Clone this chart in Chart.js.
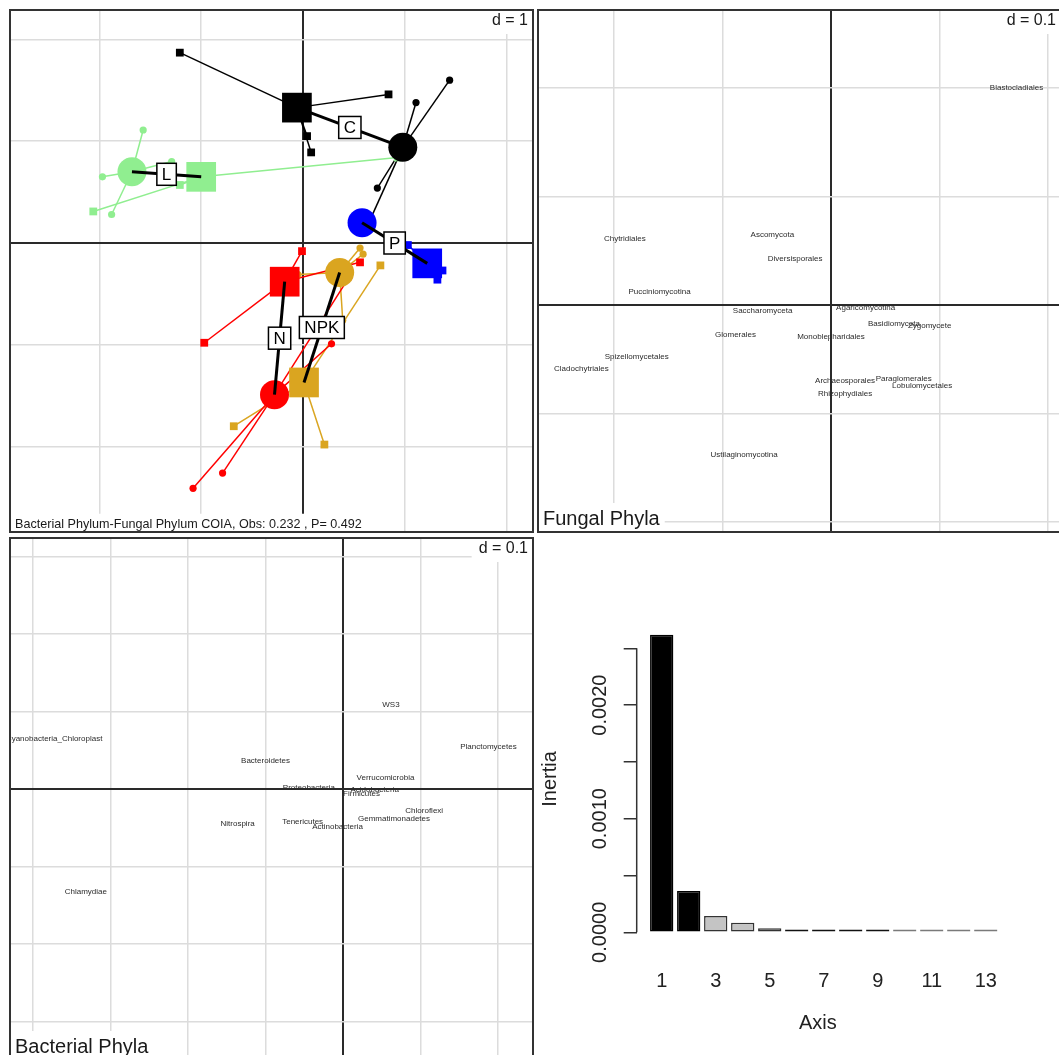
<!DOCTYPE html>
<html>
<head>
<meta charset="utf-8">
<script src="https://cdn.jsdelivr.net/npm/chart.js@4.4.1/dist/chart.umd.min.js"></script>
<style>
  html, body { margin: 0; padding: 0; background: #fff; overflow: hidden; }
  body { width: 1059px; height: 1055px; position: relative; }
  canvas { position: absolute; }
</style>
</head>
<body>
<canvas id="coia" width="533" height="532" style="left:5px;top:5px"></canvas>
<canvas id="fungi" width="533" height="532" style="left:533px;top:5px"></canvas>
<canvas id="bact" width="533" height="532" style="left:5px;top:533px"></canvas>
<canvas id="eigen" width="524" height="520" style="left:535px;top:535px"></canvas>
<script>
const FONT = '"Liberation Sans", Arial, Helvetica, sans-serif';
Chart.defaults.font.family = FONT;

// treatments
const groups = ['C', 'L', 'P', 'N', 'NPK'];

// bacterial scores (squares) : class means and single plots
const bactMeanX = [-0.06, -1.00, 1.22, -0.18, 0.01];
const bactMeanY = [1.33, 0.65, -0.20, -0.38, -1.37];
const bactSiteX = [[-1.21, 0.84, 0.04, 0.08], [-2.06, 0.93, -1.21], [1.03, 1.37, 1.32], [-0.01, -0.97, 0.56], [-0.68, 0.21, 0.76]];
const bactSiteY = [[1.87, 1.46, 1.05, 0.89], [0.31, 0.84, 0.57], [-0.02, -0.27, -0.36], [-0.08, -0.98, -0.19], [-1.80, -1.98, -0.22]];

// fungal scores (circles) : class means and single plots
const fungMeanX = [0.98, -1.68, 0.58, -0.28, 0.36];
const fungMeanY = [0.94, 0.70, 0.20, -1.49, -0.29];
const fungSiteX = [[1.44, 1.11, 0.73, 0.66], [-1.57, -1.97, -1.88, -1.29], [0.52, 0.64], [-1.08, -0.79, 0.45, 0.28], [0.56, 0.59, -0.05, 0.39]];
const fungSiteY = [[1.60, 1.38, 0.54, 0.23], [1.11, 0.65, 0.28, 0.80], [0.25, 0.17], [-2.41, -2.26, -0.34, -0.99], [-0.05, -0.11, -0.31, -0.76]];

const fungalTaxa = ['Blastocladiales', 'Chytridiales', 'Ascomycota', 'Diversisporales', 'Pucciniomycotina', 'Saccharomyceta',
  'Agaricomycotina', 'Basidiomycota', 'Zygomycete', 'Glomerales', 'Monoblepharidales', 'Spizellomycetales',
  'Cladochytriales', 'Archaeosporales', 'Paraglomerales', 'Lobulomycetales', 'Rhizophydiales', 'Ustilaginomycotina'];
const fungalAx1 = [0.171, -0.190, -0.054, -0.033, -0.158, -0.063, 0.032, 0.058, 0.091, -0.088, 0.000, -0.179, -0.230, 0.013, 0.067, 0.084, 0.013, -0.080];
const fungalAx2 = [0.200, 0.061, 0.065, 0.043, 0.012, -0.005, -0.002, -0.017, -0.019, -0.027, -0.029, -0.048, -0.059, -0.070, -0.068, -0.074, -0.082, -0.138];

const bacterialTaxa = ['WS3', 'Cyanobacteria_Chloroplast', 'Planctomycetes', 'Bacteroidetes', 'Verrucomicrobia', 'Proteobacteria',
  'Acidobacteria', 'Firmicutes', 'Chloroflexi', 'Gemmatimonadetes', 'Nitrospira', 'Tenericutes', 'Actinobacteria', 'Chlamydiae'];
const bacterialAx1 = [0.062, -0.373, 0.188, -0.100, 0.055, -0.044, 0.041, 0.024, 0.105, 0.066, -0.136, -0.052, -0.007, -0.332];
const bacterialAx2 = [0.109, 0.065, 0.055, 0.036, 0.015, 0.001, -0.001, -0.006, -0.028, -0.039, -0.045, -0.042, -0.049, -0.133];

// eigenvalues
const axisNumbers = [1, 2, 3, 4, 5, 6, 7, 8, 9, 10, 11, 12, 13];
const inertia = [0.00262, 0.000364, 0.000143, 0.000085, 0.000035, 0.000025, 0.000025, 0.000024, 0.000024, 0.000024, 0.000024, 0.000024, 0.000024];
const inertiaTicks = ['0.0000', '', '0.0010', '', '0.0020', ''];
const axisTickLabels = [1, 3, 5, 7, 9, 11, 13];

const groupColor = { C: '#000000', L: '#90ee90', P: '#0000ff', N: '#ff0000', NPK: '#daa520' };
const barFill = ['#000', '#000', '#c4c4c4', '#c4c4c4', '#9a9a9a', '#111', '#111', '#111', '#111', '#7a7a7a', '#7a7a7a', '#7a7a7a', '#7a7a7a'];
const barEdge = ['#000', '#000', '#333', '#333', '#333', '#111', '#111', '#111', '#111', '#7a7a7a', '#7a7a7a', '#7a7a7a', '#7a7a7a'];

const isZero = (v) => Math.abs(v) < 1e-9;

const gridOpts = {
  drawTicks: false,
  color: (c) => (c.tick && isZero(c.tick.value) ? '#2a2a2a' : '#dcdcdc'),
  lineWidth: (c) => (c.tick && isZero(c.tick.value) ? 2 : 1.5),
};

const ordScales = (xMin, xMax, yMin, yMax, step) => ({
  x: {
    type: 'linear', min: xMin, max: xMax,
    ticks: { stepSize: step, display: false, includeBounds: false },
    grid: gridOpts, border: { display: false },
    afterFit: (s) => { s.height = 0; },
  },
  y: {
    type: 'linear', min: yMin, max: yMax,
    ticks: { stepSize: step, display: false, includeBounds: false },
    grid: gridOpts, border: { display: false },
    afterFit: (s) => { s.width = 0; },
  },
});

const baseOptions = (scales) => ({
  responsive: false,
  animation: false,
  events: [],
  layout: { padding: 5, autoPadding: false },
  plugins: { legend: { display: false }, tooltip: { enabled: false } },
  scales,
});

// frame + "d = " box + bottom caption
const decor = ({ dText, caption, captionSize }) => ({
  id: 'decor',
  beforeDatasetsDraw(chart) {
    const { ctx, chartArea: a } = chart;
    ctx.save();
    ctx.font = `16px ${FONT}`;
    const dw = ctx.measureText(dText).width;
    ctx.fillStyle = '#fff';
    ctx.fillRect(a.right - dw - 12, a.top, dw + 12, 24);
    ctx.fillStyle = '#1a1a1a';
    ctx.textAlign = 'right';
    ctx.textBaseline = 'middle';
    ctx.fillText(dText, a.right - 5, a.top + 11);
    if (caption) {
      ctx.font = `${captionSize}px ${FONT}`;
      const cw = ctx.measureText(caption).width;
      const h = captionSize * 1.45;
      ctx.fillStyle = '#fff';
      ctx.fillRect(a.left, a.bottom - h, cw + 10, h);
      ctx.fillStyle = '#1a1a1a';
      ctx.textAlign = 'left';
      ctx.textBaseline = 'alphabetic';
      ctx.fillText(caption, a.left + 5, a.bottom - captionSize * 0.33);
    }
    ctx.restore();
  },
  afterDraw(chart) {
    const { ctx, chartArea: a } = chart;
    ctx.save();
    ctx.strokeStyle = '#333';
    ctx.lineWidth = 2;
    ctx.strokeRect(a.left, a.top, a.width, a.height);
    ctx.restore();
  },
});

// ---------- panel 1 : COIA ----------
const star = (from, to, col) => ({
  data: [from, to], showLine: true, borderColor: col, borderWidth: 1.5,
  pointRadius: 0, pointHoverRadius: 0, order: 4,
});

const coiaDatasets = [];
groups.forEach((g, i) => {
  const col = groupColor[g];
  const bMean = { x: bactMeanX[i], y: bactMeanY[i] };
  const fMean = { x: fungMeanX[i], y: fungMeanY[i] };
  const bPts = bactSiteX[i].map((x, k) => ({ x, y: bactSiteY[i][k] }));
  const fPts = fungSiteX[i].map((x, k) => ({ x, y: fungSiteY[i][k] }));
  bPts.forEach((p) => coiaDatasets.push(star(bMean, p, col)));
  fPts.forEach((p) => coiaDatasets.push(star(fMean, p, col)));
  const pt = (data, style, r, order) => ({
    data, showLine: false, pointStyle: style, pointRadius: r, pointHoverRadius: r,
    pointBackgroundColor: col, pointBorderWidth: 0, order,
  });
  coiaDatasets.push(pt(bPts, 'rect', 5.5, 3));
  coiaDatasets.push(pt(fPts, 'circle', 3.6, 3));
  coiaDatasets.push(pt([bMean], 'rect', 21, 2));
  coiaDatasets.push(pt([fMean], 'circle', 14.5, 2));
  coiaDatasets.push({
    data: [bMean, fMean], showLine: true, borderColor: '#000', borderWidth: 3,
    pointRadius: 0, pointHoverRadius: 0, order: 1,
  });
});

const groupLabels = {
  id: 'groupLabels',
  afterDatasetsDraw(chart) {
    const { ctx, scales: { x, y } } = chart;
    ctx.save();
    ctx.font = `17px ${FONT}`;
    ctx.textAlign = 'center';
    ctx.textBaseline = 'middle';
    groups.forEach((g, i) => {
      const px = x.getPixelForValue((bactMeanX[i] + fungMeanX[i]) / 2);
      const py = y.getPixelForValue((bactMeanY[i] + fungMeanY[i]) / 2);
      const w = ctx.measureText(g).width + 10;
      const h = 22;
      ctx.fillStyle = '#fff';
      ctx.fillRect(px - w / 2, py - h / 2, w, h);
      ctx.strokeStyle = '#000';
      ctx.lineWidth = 1.5;
      ctx.strokeRect(px - w / 2, py - h / 2, w, h);
      ctx.fillStyle = '#000';
      ctx.fillText(g, px, py + 1);
    });
    ctx.restore();
  },
};

new Chart(document.getElementById('coia'), {
  type: 'scatter',
  data: { datasets: coiaDatasets },
  options: baseOptions(ordScales(-2.878, 2.259, -2.839, 2.289, 1)),
  plugins: [decor({ dText: 'd = 1', caption: 'Bacterial Phylum-Fungal Phylum COIA, Obs: 0.232 , P= 0.492', captionSize: 12.6 }), groupLabels],
});

// ---------- panels 2, 3 : taxa labels ----------
const taxaLabels = (names) => ({
  id: 'taxaLabels',
  afterDatasetsDraw(chart) {
    const { ctx, chartArea: a } = chart;
    const meta = chart.getDatasetMeta(0);
    ctx.save();
    ctx.beginPath();
    ctx.rect(a.left, a.top, a.width, a.height);
    ctx.clip();
    ctx.font = `8px ${FONT}`;
    ctx.fillStyle = '#2b2b2b';
    ctx.textAlign = 'center';
    ctx.textBaseline = 'middle';
    meta.data.forEach((el, i) => ctx.fillText(names[i], el.x, el.y));
    ctx.restore();
  },
});

const labelSet = (xs, ys) => ({
  data: xs.map((x, i) => ({ x, y: ys[i] })),
  pointRadius: 0, pointHoverRadius: 0,
});

new Chart(document.getElementById('fungi'), {
  type: 'scatter',
  data: { datasets: [labelSet(fungalAx1, fungalAx2)] },
  options: baseOptions(ordScales(-0.270, 0.212, -0.209, 0.272, 0.1)),
  plugins: [decor({ dText: 'd = 0.1', caption: 'Fungal Phyla', captionSize: 20 }), taxaLabels(fungalTaxa)],
});

new Chart(document.getElementById('bact'), {
  type: 'scatter',
  data: { datasets: [labelSet(bacterialAx1, bacterialAx2)] },
  options: baseOptions(ordScales(-0.430, 0.2455, -0.350, 0.324, 0.1)),
  plugins: [decor({ dText: 'd = 0.1', caption: 'Bacterial Phyla', captionSize: 20 }), taxaLabels(bacterialTaxa)],
});

// ---------- panel 4 : eigenvalues ----------
const yAxisLine = {
  id: 'yAxisLine',
  afterDraw(chart) {
    const { ctx, chartArea: a, scales: { y } } = chart;
    const ticks = y.ticks;
    ctx.save();
    ctx.strokeStyle = '#333';
    ctx.lineWidth = 1.5;
    ctx.beginPath();
    ctx.moveTo(a.left, y.getPixelForValue(ticks[0].value));
    ctx.lineTo(a.left, y.getPixelForValue(ticks[ticks.length - 1].value));
    ctx.stroke();
    ctx.restore();
  },
};

new Chart(document.getElementById('eigen'), {
  type: 'bar',
  data: {
    datasets: [{
      data: axisNumbers.map((a, i) => ({ x: a, y: inertia[i] })),
      backgroundColor: barFill,
      borderColor: barEdge,
      borderWidth: 1.5,
      borderSkipped: false,
      categoryPercentage: 1,
      barPercentage: 0.863,
    }],
  },
  options: {
    responsive: false,
    animation: false,
    events: [],
    layout: { padding: { left: 0, top: 90.6, right: 60, bottom: 0 }, autoPadding: false },
    plugins: { legend: { display: false }, tooltip: { enabled: false } },
    scales: {
      x: {
        type: 'linear', min: 0.074, max: 13.49, offset: false,
        grid: { display: false, offset: false }, border: { display: false },
        afterBuildTicks: (s) => { s.ticks = axisTickLabels.map((v) => ({ value: v })); },
        ticks: { font: { size: 20 }, color: '#222', padding: 29, maxRotation: 0, autoSkip: false },
        title: { display: true, text: 'Axis', font: { size: 20 }, color: '#222', padding: { top: 0, bottom: 20 } },
        afterFit: (s) => { s.height = 122.7; },
      },
      y: {
        min: 0, max: 0.0027,
        ticks: {
          stepSize: 0.0005, includeBounds: false, autoSkip: false, callback: (v, i) => inertiaTicks[i],
          font: { size: 20 }, color: '#222', minRotation: 90, maxRotation: 90, crossAlign: 'center', padding: -7,
        },
        grid: { drawOnChartArea: false, tickLength: 13, color: '#333', lineWidth: 1.5 },
        border: { display: false },
        title: { display: true, text: 'Inertia', font: { size: 20 }, color: '#222', padding: { top: 3, bottom: 0 } },
        afterFit: (s) => { s.width = 101.7; },
      },
    },
  },
  plugins: [yAxisLine],
});
</script>
</body>
</html>
